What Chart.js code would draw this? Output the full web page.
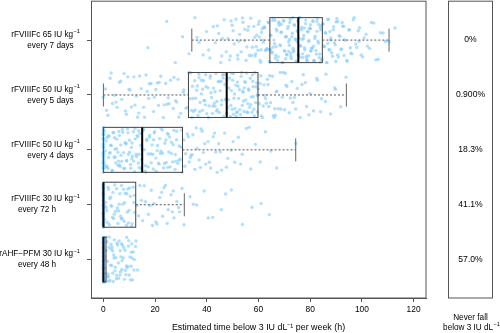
<!DOCTYPE html>
<html>
<head>
<meta charset="utf-8">
<script src="https://cdn.jsdelivr.net/npm/chart.js@4.4.1/dist/chart.umd.min.js"></script>
<style>
html,body{margin:0;padding:0;background:#fff;}
#wrap{width:500px;height:333px;position:relative;}
</style>
</head>
<body>
<div id="wrap"><canvas id="c" width="500" height="333"></canvas></div>
<script>
// ---------- DATA ----------
const categoryLine1 = [
  "rFVIIIFc 65 IU kg",
  "rFVIIIFc 50 IU kg",
  "rFVIIIFc 50 IU kg",
  "rFVIIIFc 30 IU kg",
  "rAHF\u2212PFM 30 IU kg"
];
const unitSuperscript = "\u22121";
const categoryLine2 = ["every 7 days", "every 5 days", "every 4 days", "every 72 h", "every 48 h"];
const neverFallPct = ["0%", "0.900%", "18.3%", "41.1%", "57.0%"];
const xTicks = [0, 20, 40, 60, 80, 100, 120];

// box stats: [lower whisker, Q1, median, Q3, upper whisker]
const boxStats = [
  [34.2, 64.4, 75.4, 84.7, 110.5],
  [0, 32.9, 47.7, 59.8, 94.0],
  [0, 0, 15.0, 30.6, 74.4],
  [0, 0, 0, 12.5, 31.3],
  [0, 0, 0, 1.0, 1.0]
];

// individual estimates (h below 3 IU/dL per week)
const g1 = [17.2,24.5,27.8,30.6,33.1,35.4,37.0,38.6,39.9,41.2,42.5,43.3,44.6,45.4,46.7,47.5,48.2,49.1,49.8,50.6,51.3,52.0,52.7,53.3,54.0,54.6,55.2,55.9,56.5,57.0,57.6,58.2,58.7,59.3,59.8,60.3,60.9,61.4,61.9,62.4,62.9,63.4,63.9,64.4,64.8,65.3,65.8,66.2,66.7,67.1,67.6,68.0,68.5,68.9,69.3,69.8,70.2,70.6,71.0,71.5,71.9,72.3,72.7,73.1,73.5,73.9,74.3,74.7,75.1,75.5,75.9,76.3,76.7,77.1,77.5,77.9,78.3,78.7,79.1,79.5,79.9,80.3,80.7,81.1,81.5,81.9,82.4,82.8,83.2,83.7,84.1,84.6,85.0,85.5,86.0,86.5,87.0,87.5,88.0,88.6,89.1,89.7,90.3,90.9,91.5,92.2,92.9,93.6,94.4,95.2,96.1,97.0,98.0,99.1,100.3,101.6,103.0,104.6,106.3,108.2,110.5,112.8,64.1,65.6,67.9,69.5,70.8,72.5,73.3,74.9,76.1,77.7,78.9,80.1,81.3,82.6,83.9,66.4,71.7,75.7,79.3,84.3,86.8,90.6,93.1,
  36.3,40.7,44.1,46.0,48.8,50.2,51.9,53.8,55.5,56.2,57.3,58.5,59.1,60.0,60.6,61.2,61.7,62.2,62.7,63.2,63.7,64.2,64.6,65.1,65.5,66.0,66.5,66.9,67.4,67.8,68.3,68.7,69.1,69.6,70.0,70.4,70.9,71.3,71.7,72.1,72.5,72.9,73.4,73.8,74.2,74.6,75.0,75.3,75.8,76.2,76.6,77.0,77.4,77.8,78.2,78.6,79.0,79.4,79.8,80.2,80.6,81.0,81.4,81.8,82.2,82.6,83.0,83.5,83.9,84.4,84.9,85.3,85.8,86.3,86.8,87.3,87.8,88.3,88.9,89.4,90.0,90.6,91.2,91.9,92.6,93.3,94.1,94.9,95.8,96.7,97.6,98.6,99.7,100.9,102.2,103.7,105.4,107.2,109.1,62.0,64.7,66.8,68.8,70.5,72.0,73.6,75.2,76.9,78.5,80.0,81.6,83.3,85.2,87.6,89.9,92.4,95.5,98.9,58.9,54.7,52.4,49.4,45.8,60.4,61.0];
const g2 = [0,0.8,1.7,2.6,3.5,4.4,5.3,6.2,7.1,8.0,8.9,9.9,10.8,11.8,12.7,13.7,14.6,15.6,16.5,17.5,18.4,19.4,20.3,21.3,22.2,23.2,24.1,25.1,26.0,27.0,27.9,28.9,29.9,30.9,31.9,33.1,33.5,34.0,34.4,34.8,35.3,35.7,36.1,36.6,37.0,37.4,37.9,38.3,38.7,39.2,39.6,40.0,40.5,40.9,41.3,41.8,42.2,42.6,43.1,43.5,43.9,44.4,44.8,45.2,45.7,46.1,46.5,47.0,47.4,47.8,48.1,48.4,48.8,49.1,49.5,49.8,50.2,50.5,50.9,51.2,51.6,51.9,52.3,52.6,53.0,53.3,53.7,54.0,54.4,54.7,55.1,55.4,55.8,56.1,56.5,56.8,57.2,57.5,57.9,58.2,58.6,58.9,59.3,59.6,59.9,60.3,60.9,61.5,62.1,62.7,63.4,64.0,64.7,65.4,66.1,66.9,67.6,68.4,69.2,70.1,71.0,71.9,72.9,73.9,75.0,76.1,77.3,78.6,79.9,81.3,82.8,84.4,86.1,87.9,89.8,91.8,93.9,62.4,66.5,70.6,
  1.2,3.0,4.9,6.7,8.5,10.3,12.2,14.0,15.9,17.8,19.7,21.6,23.5,25.4,27.3,29.2,31.1,32.5,33.8,34.6,35.5,36.3,37.2,38.0,38.9,39.7,40.6,41.4,42.3,43.2,44.0,44.9,45.8,46.7,47.6,48.6,49.3,50.0,50.7,51.4,52.1,52.8,53.5,54.2,54.9,55.6,56.3,57.0,57.7,58.4,59.1,59.7,60.6,61.8,63.0,64.3,65.7,67.1,68.7,70.4,72.3,74.4,76.8,79.5,82.5,85.9,89.5,34.2,36.9,39.4,41.6,43.8,45.5,47.2,49.7,51.8,53.9,55.9,57.8,59.5,61.1,63.7,66.3,69.6,73.3,78.1,84.0,38.4,42.9,46.3,50.4,54.5,58.0,20.9,24.6,28.4,9.4,13.2,16.9];
const g3 = [0,0,0,0,0,0,0,0,0,0,0,0,0,0,0,0,0,0,0,0,0,0,0,0,0.3,0.7,1.1,1.5,1.8,2.2,2.6,3.0,3.3,3.7,4.1,4.5,4.8,5.2,5.6,6.0,6.3,6.7,7.1,7.5,7.8,8.2,8.6,9.0,9.3,9.7,10.1,10.5,10.8,11.2,11.6,12.0,12.3,12.7,13.1,13.5,13.8,14.2,14.6,14.9,5.9,15.3,15.8,16.3,16.8,17.3,17.8,18.3,18.8,19.3,19.8,20.3,20.8,21.3,21.8,22.3,22.8,23.3,23.8,24.3,24.8,25.3,25.8,26.3,26.8,27.3,27.8,28.3,28.8,29.3,29.8,30.2,30.5,31.1,31.8,32.5,33.2,33.9,34.6,35.4,36.2,37.0,37.8,38.7,39.6,40.5,41.5,42.5,43.5,44.6,45.7,46.9,48.1,49.4,50.8,52.2,53.7,55.3,57.0,58.8,60.7,62.7,64.8,67.0,74.4,
  0,0,0,0,0,0,0,0,0,0,0,0,0,0,0,0,0,0,0,0,0.5,1.0,1.4,1.9,2.4,2.9,3.5,4.0,4.6,5.1,5.7,6.2,6.8,7.3,7.9,8.4,9.0,9.5,10.1,10.6,11.1,11.7,12.2,12.8,13.3,13.9,14.4,14.8,15.5,16.1,16.7,17.3,17.9,18.5,19.1,19.7,20.4,21.0,21.6,22.3,22.9,23.6,24.2,24.9,25.6,26.3,27.0,27.7,28.4,29.2,30.0,31.5,32.9,34.3,35.9,37.5,39.2,41.0,43.0,45.2,47.6,50.2,53.1,56.4,2.0,4.3,6.5,8.8,11.0,13.6,16.4,19.4,22.0,25.0,28.0,33.6,38.2,44.0];
const g4 = [0,0,0,0,0,0,0,0,0,0,0,0,0,0,0,0,0,0,0,0,0,0,0,0,0,0,0,0,0,0,0,0,0,0,0,0,0,0,0,0,0.4,0.9,1.3,1.8,2.3,2.8,3.2,3.7,4.2,4.7,5.1,5.6,6.1,6.6,7.0,7.5,8.0,8.5,8.9,9.4,9.9,10.4,10.9,11.5,12.1,3.0,6.9,9.1,13.0,14.1,15.2,16.3,17.4,18.5,19.6,20.7,21.8,22.9,24.0,25.1,26.2,27.3,28.4,29.5,30.4,31.2,33.5,36.1,39.0,42.3,45.6,49.5,53.8,61.0,64.2,
  0,0,0,0,0,0,0,0,0,0,0,0,0,0,0,0,0,0,0,0,0.7,1.5,2.5,3.5,4.4,5.4,6.4,7.3,8.2,9.2,10.1,11.1,12.0,1.1,2.0,4.0,5.9,7.8,9.7,11.8,13.6,15.8,18.0,20.3,22.5,24.7,27.0,29.1,14.7,19.0,23.4,26.7,34.8,40.6,47.3,57.5];
const g5 = [0,0,0,0,0,0,0,0,0,0,0,0,0,0,0,0,0,0,0,0,0,0,0,0,0,0,0,0,0,0,0,0,0,0,0,0,0,0,0,0,0.3,0.6,0.9,1.2,1.6,1.9,2.2,2.5,2.9,3.2,3.5,3.8,4.2,4.5,4.8,5.1,5.5,5.8,6.1,6.4,6.8,7.1,7.4,7.7,8.1,8.4,8.7,9.0,9.4,9.7,10.0,10.3,10.7,11.0,11.3,11.6,12.0,12.4,13.2,0.5,1.4,2.0,4.0,6.6,
  0,0,0,0,0,0,0,0,0,0,0,0,0,0,0,0,0,0,0,0,0.4,0.8,1.0,1.8,2.3,2.7,3.1,3.6,4.1,4.6,5.3,5.9,6.5,7.2,7.9,8.5,9.2,9.8,10.5,11.1,11.8,12.6,0.2,1.6,3.4,5.0,7.0,8.9,10.8];
const groupValues = [g1, g2, g3, g4, g5];

// vertical jitter offsets (category units)
const jitterA = [0.12,-0.31,0.37,-0.05,0.22,-0.38,0.03,0.29,-0.19,0.34,-0.27,0.08,-0.12,0.39,-0.34,0.17,-0.02,0.26,-0.23,0.06,-0.36,0.31,-0.09,0.19,-0.29,0.01,0.35,-0.15,0.24,-0.39,0.10,-0.21,0.28,-0.07,0.15,-0.33,0.38,-0.17,0.04,-0.25,0.21];
const jitterB = [0.02,-0.03,0.04,-0.01,0.03,-0.04,0.01,-0.02,0.035,-0.015,0.025,-0.035,0.0];

// ---------- STYLE ----------
const FONT = '"Liberation Sans", Arial, Helvetica, sans-serif';
const LABEL_SIZE = 8.2;
const AXIS_COLOR = '#555';
const line2CenterX = [50.5, 50.5, 50.5, 37, 37];

const datasets = groupValues.map((vals, g) => ({
  data: vals.map((v, i) => {
    let j = jitterA[(i + g * 11) % jitterA.length] + jitterB[(i + g * 5) % jitterB.length];
    j = Math.max(-0.41, Math.min(0.41, j));
    return { x: v, y: g + 1 + j };
  }),
  backgroundColor: 'rgba(135,206,250,0.65)',
  borderWidth: 0,
  pointRadius: 1.7,
  pointHoverRadius: 1.7
}));

function textWithSup(ctx, main, sup, xRight, y, size) {
  ctx.font = (size * 0.7) + 'px ' + FONT;
  const sw = ctx.measureText(sup).width;
  ctx.textAlign = 'left';
  ctx.fillText(sup, xRight - sw, y - size * 0.35);
  ctx.font = size + 'px ' + FONT;
  ctx.textAlign = 'right';
  ctx.fillText(main, xRight - sw - 0.3, y);
}

const boxPlugin = {
  id: 'boxes',
  afterDatasetsDraw(chart) {
    const ctx = chart.ctx, xs = chart.scales.x, ys = chart.scales.y;
    ctx.save();
    boxStats.forEach((s, g) => {
      const c = g + 1;
      const yT = ys.getPixelForValue(c - 0.41), yB = ys.getPixelForValue(c + 0.41);
      const cT = ys.getPixelForValue(c - 0.21), cB = ys.getPixelForValue(c + 0.21);
      const yC = ys.getPixelForValue(c);
      const [lo, q1, med, q3, hi] = s.map(v => xs.getPixelForValue(v));
      ctx.strokeStyle = '#555';
      ctx.lineWidth = 1;
      ctx.setLineDash([2, 2]);
      ctx.beginPath();
      if (q1 - lo > 1) { ctx.moveTo(lo, yC); ctx.lineTo(q1, yC); }
      if (hi - q3 > 1) { ctx.moveTo(q3, yC); ctx.lineTo(hi, yC); }
      ctx.stroke();
      ctx.setLineDash([]);
      ctx.strokeStyle = '#666';
      ctx.beginPath();
      if (q1 - lo > 1) { ctx.moveTo(lo, cT); ctx.lineTo(lo, cB); }
      if (hi - q3 > 1) { ctx.moveTo(hi, cT); ctx.lineTo(hi, cB); }
      ctx.stroke();
      ctx.strokeStyle = '#444';
      ctx.lineWidth = 1;
      ctx.strokeRect(q1, yT, q3 - q1, yB - yT);
      ctx.strokeStyle = '#000';
      ctx.lineWidth = 2;
      ctx.beginPath();
      ctx.moveTo(med, yT); ctx.lineTo(med, yB);
      ctx.stroke();
    });
    ctx.restore();
  },
  afterDraw(chart) {
    const ctx = chart.ctx, a = chart.chartArea, ys = chart.scales.y;
    ctx.save();
    ctx.strokeStyle = AXIS_COLOR;
    ctx.lineWidth = 1;
    ctx.strokeRect(a.left + 0.5, a.top - 0.5, a.right - a.left - 0.5, a.bottom - a.top + 0.5);
    ctx.fillStyle = '#000';
    ctx.textBaseline = 'middle';
    categoryLine1.forEach((t, g) => {
      const y = ys.getPixelForValue(g + 1);
      textWithSup(ctx, t, unitSuperscript, 80, y - 5.5, LABEL_SIZE);
      ctx.font = LABEL_SIZE + 'px ' + FONT;
      ctx.textAlign = 'center';
      ctx.fillText(categoryLine2[g], line2CenterX[g], y + 5.5);
    });
    const px = 448.5, pw = 44;
    ctx.strokeStyle = AXIS_COLOR;
    ctx.strokeRect(px, a.top - 0.5, pw, a.bottom - a.top + 0.5);
    ctx.font = '8.6px ' + FONT;
    ctx.textAlign = 'center';
    neverFallPct.forEach((t, g) => {
      ctx.fillText(t, px + pw / 2, ys.getPixelForValue(g + 1));
    });
    ctx.font = LABEL_SIZE + 'px ' + FONT;
    ctx.fillText('Never fall', px + pw / 2, 318);
    textWithSup(ctx, 'below 3 IU dL', unitSuperscript, 500, 327.5, LABEL_SIZE);
    ctx.restore();
  }
};

new Chart(document.getElementById('c'), {
  type: 'scatter',
  data: { datasets },
  options: {
    responsive: false,
    animation: false,
    events: [],
    layout: { padding: { top: 1, right: 74, left: 0, bottom: 0 } },
    plugins: { legend: { display: false }, tooltip: { enabled: false } },
    scales: {
      x: {
        type: 'linear',
        min: -4.8, max: 124.8,
        afterBuildTicks: s => { s.ticks = xTicks.map(v => ({ value: v })); },
        afterFit: s => { s.height = 35; },
        grid: { drawOnChartArea: false, drawTicks: true, tickLength: 4, color: AXIS_COLOR },
        border: { display: true, color: AXIS_COLOR },
        ticks: { color: '#000', font: { family: FONT, size: 8.4 }, padding: 3, maxRotation: 0 },
        title: { display: true, text: 'Estimated time below 3 IU dL\u207B\u00B9 per week (h)', color: '#000',
                 font: { family: FONT, size: 8.9 }, padding: { top: 0, bottom: 0.6 } }
      },
      y: {
        type: 'linear',
        min: 0.3, max: 5.7,
        reverse: true,
        afterBuildTicks: s => { s.ticks = [1, 2, 3, 4, 5].map(v => ({ value: v })); },
        afterFit: s => { s.width = 91; },
        grid: { drawOnChartArea: false, drawTicks: true, tickLength: 4, color: AXIS_COLOR },
        border: { display: true, color: AXIS_COLOR },
        ticks: { display: false }
      }
    }
  },
  plugins: [boxPlugin]
});
</script>
</body>
</html>
